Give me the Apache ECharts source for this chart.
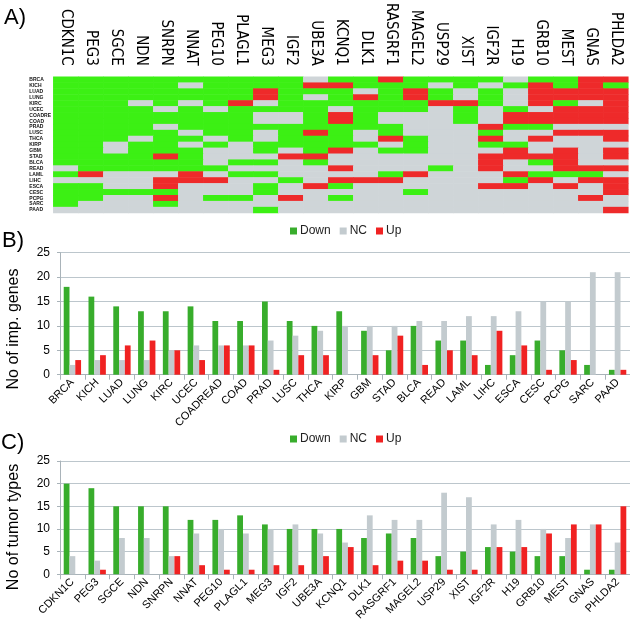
<!DOCTYPE html>
<html>
<head>
<meta charset="utf-8">
<script src="https://cdn.jsdelivr.net/npm/echarts@6/dist/echarts.min.js"></script>
<style>
html,body{margin:0;padding:0;background:#fff;}
#c{width:630px;height:623px;}
</style>
</head>
<body>
<div id="c"></div>
<script>
// ---- data ----
const genes = ['CDKN1C','PEG3','SGCE','NDN','SNRPN','NNAT','PEG10','PLAGL1','MEG3','IGF2','UBE3A','KCNQ1','DLK1','RASGRF1','MAGEL2','USP29','XIST','IGF2R','H19','GRB10','MEST','GNAS','PHLDA2'];
const tumors = ['BRCA','KICH','LUAD','LUNG','KIRC','UCEC','COADREAD','COAD','PRAD','LUSC','THCA','KIRP','GBM','STAD','BLCA','READ','LAML','LIHC','ESCA','CESC','PCPG','SARC','PAAD'];
// heatmap status per tumor (row) and gene (column): G = Down, N = NC, R = Up
const heatRows = [
  'GGGGGGGGGGNGGRGGGGNGGRR', // BRCA
  'GGGGGNGGGGRRGGGNGNGRGRG', // KICH
  'GGGGGGGGRGGGNGRGNGNRRRR', // LUAD
  'GGGGGGGGRGNGRGRGNGNRRRR', // LUNG
  'GGGNGNGRNGGGGGGRRGNRGNR', // KIRC
  'GGGGNGNGGGGNGGGNGNGNRRR', // UCEC
  'GGGGGGGGNNGRGNNNGNRRRRR', // COADREAD
  'GGGGGGGGNNGRGNNNGNRRRRR', // COAD
  'GGGGNGGGGGGGGGNNNRGGNNN', // PRAD
  'GGGGGNGGNGRGNGNNNGNNRRR', // LUSC
  'GGGNGGNGNGGGNRGNNRNRNNR', // THCA
  'GGNGGNGNGGGGGNGNNGGNNNN', // KIRP
  'GGNGGGNNGNGRNGGNNNRNRNR', // GBM
  'GGGGRGNNNRRNNNNNNRRRRNR', // STAD
  'GGGGGGNGGNGNNNNNNRNGRNN', // BLCA
  'NGGGGGGNNNNRNNNGNRNNRRR', // READ
  'GRNNNRNGGNNNNGRNNNRGGGN', // LAML
  'NNNNRRRNNGNRRRNNNNGRNRR', // LIHC
  'GGNNRNNNGNRGNNNNNRRNRNR', // ESCA
  'GGGGGNNNGNNNNNGNNNNNNNR', // CESC
  'GGNNRNGGNRNGNNNNNNNNNRN', // PCPG
  'GNNNGNNNNNNNNNNNNNNNNNN', // SARC
  'NNNNNNNNGNNNNNNNNNNNNNR'  // PAAD
];
const statusNames = ['Down','NC','Up'];
// Panel B: number of imprinted genes per tumor type
const bDown = [18,16,14,13,13,14,11,11,15,11,10,13,9,5,10,7,7,2,4,7,5,2,1];
const bNC   = [2,3,3,3,5,6,6,6,7,8,9,10,10,10,11,11,12,12,13,15,15,21,21];
const bUp   = [3,4,6,7,5,3,6,6,1,4,4,0,4,8,2,5,4,9,6,1,3,0,1];
// Panel C: number of tumor types per gene
const cDown = [20,19,15,15,15,12,12,13,11,10,10,10,8,9,8,4,5,6,5,4,4,1,1];
const cNC   = [4,3,8,8,4,9,10,9,10,11,9,7,13,12,12,18,17,11,12,10,8,11,7];
const cUp   = [0,1,0,0,4,2,1,1,2,2,4,6,2,3,3,1,1,6,6,9,11,11,15];
const yTicks = {min:0, max:25, interval:5};

// ---- build ----
const code = {G:0, N:1, R:2};
const heatData = [];
heatRows.forEach((row, i) => {
  row.split('').forEach((ch, j) => heatData.push([j, i, code[ch]]));
});

const FONT = 'Liberation Sans, Arial, sans-serif';
const NARROW = '"Liberation Sans Narrow", "DejaVu Sans Condensed", "Liberation Sans", Arial, sans-serif';
const heatColors = ['#3cf014', '#cfd5d8', '#ee2a2a'];
const barColors = ['#38ad2c', '#c3cbcf', '#f02222'];

const chart = echarts.init(document.getElementById('c'), null, {renderer:'canvas'});

function barXAxis(gi, data) {
  return {
    type:'category', gridIndex:gi, data:data,
    axisLine:{show:true, lineStyle:{color:'#a9b3b9', width:1}},
    axisTick:{show:true, length:5, lineStyle:{color:'#a9b3b9'}},
    axisLabel:{rotate:45, fontSize:11, fontFamily:FONT, color:'#000', margin:6, interval:0}
  };
}
function barYAxis(gi) {
  return {
    type:'value', gridIndex:gi, min:yTicks.min, max:yTicks.max, interval:yTicks.interval,
    axisLine:{show:true, lineStyle:{color:'#a9b3b9'}},
    axisTick:{show:true, length:3, lineStyle:{color:'#a9b3b9'}},
    axisLabel:{fontSize:12, fontFamily:FONT, color:'#000', margin:10},
    splitLine:{show:true, lineStyle:{color:'#bcc6cc', width:1}}
  };
}
function barSeries(name, xi, data, color) {
  return {
    type:'bar', name:name, xAxisIndex:xi, yAxisIndex:xi, data:data,
    barGap:'0%', barCategoryGap:'30%',
    itemStyle:{color:color}, emphasis:{disabled:true}, animation:false
  };
}

const option = {
  animation:false,
  textStyle:{fontFamily:FONT},
  grid:[
    {left:53.3, top:66, width:575, height:147},
    {left:60, top:252.7, width:570, height:122},
    {left:60, top:461, width:570, height:114}
  ],
  xAxis:[
    {
      type:'category', gridIndex:0, data:genes, position:'top',
      axisLine:{show:false}, axisTick:{show:false}, splitLine:{show:false},
      axisLabel:{rotate:90, fontSize:15, fontFamily:NARROW, color:'#000', margin:11, interval:0}
    },
    barXAxis(1, tumors),
    barXAxis(2, genes)
  ],
  yAxis:[
    {
      type:'category', gridIndex:0, data:tumors, inverse:true,
      axisLine:{show:false}, axisTick:{show:false}, splitLine:{show:false},
      axisLabel:{fontSize:5, fontWeight:'bold', fontFamily:FONT, color:'#111', align:'left', margin:24, interval:0,
        formatter:v => v.slice(0,6)}
    },
    barYAxis(1),
    barYAxis(2)
  ],
  visualMap:{
    type:'piecewise', show:false, seriesIndex:0, dimension:2,
    pieces:[{value:0, color:heatColors[0]},{value:1, color:heatColors[1]},{value:2, color:heatColors[2]}]
  },
  legend:[
    {data:statusNames, left:285, top:220, itemWidth:7, itemHeight:7, itemGap:9, icon:'rect',
      textStyle:{fontSize:12, fontFamily:FONT, color:'#222', padding:[0,0,0,-2]}},
    {data:statusNames, left:285, top:428, itemWidth:7, itemHeight:7, itemGap:9, icon:'rect',
      textStyle:{fontSize:12, fontFamily:FONT, color:'#222', padding:[0,0,0,-2]}}
  ],
  graphic:[
    {type:'text', left:4, top:7, style:{text:'A)', font:'22px '+FONT, fill:'#000'}},
    {type:'text', left:2, top:230, style:{text:'B)', font:'22px '+FONT, fill:'#000'}},
    {type:'text', left:1, top:432, style:{text:'C)', font:'22px '+FONT, fill:'#000'}},
    {type:'text', x:14, y:329, rotation:Math.PI/2,
      style:{text:'No of imp. genes', font:'16px '+FONT, fill:'#000', textAlign:'center', textVerticalAlign:'middle'}},
    {type:'text', x:14, y:527, rotation:Math.PI/2,
      style:{text:'No of tumor types', font:'16px '+FONT, fill:'#000', textAlign:'center', textVerticalAlign:'middle'}}
  ],
  series:[
    {type:'heatmap', xAxisIndex:0, yAxisIndex:0, data:heatData, itemStyle:{borderWidth:0}, emphasis:{disabled:true}},
    barSeries('Down', 1, bDown, barColors[0]),
    barSeries('NC', 1, bNC, barColors[1]),
    barSeries('Up', 1, bUp, barColors[2]),
    barSeries('Down', 2, cDown, barColors[0]),
    barSeries('NC', 2, cNC, barColors[1]),
    barSeries('Up', 2, cUp, barColors[2])
  ]
};
chart.setOption(option);
</script>
</body>
</html>
